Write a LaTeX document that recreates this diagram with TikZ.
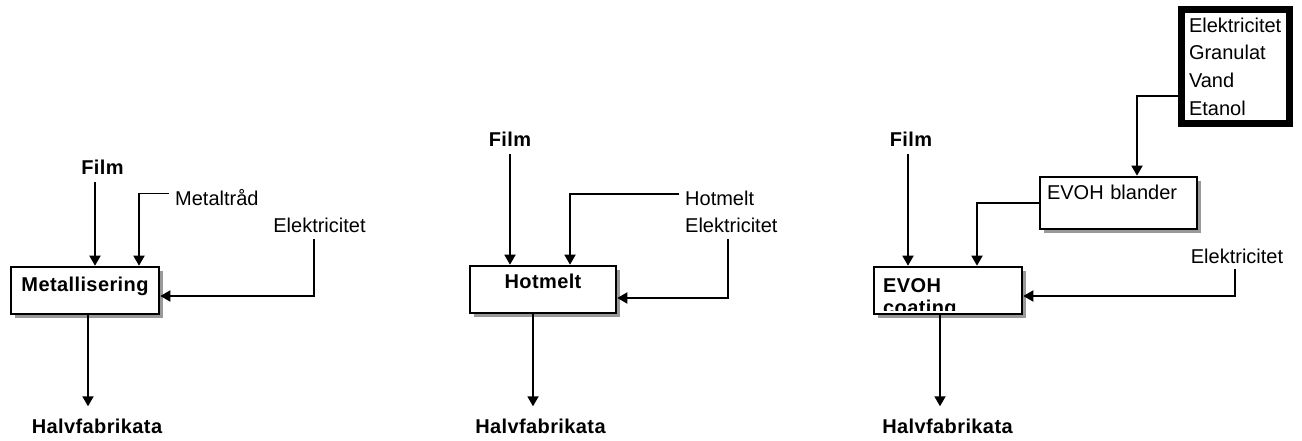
\documentclass[tikz,border=0pt]{standalone}
\usepackage{fontspec}
\setmainfont{Liberation Sans}
\newfontfamily\widesans{Liberation Sans}[LetterSpace=2]
\usetikzlibrary{arrows.meta,shadows}

\newcommand\txtplain{\fontsize{20}{27.7}\selectfont}
\newcommand\txtbold{\widesans\bfseries\fontsize{20}{22}\selectfont}

\begin{document}
\begin{tikzpicture}[
			x=1pt, y=-1pt,
			>={Triangle[length=10pt,width=11pt]},
			prose/.style  = {font=\txtplain, inner sep=6pt, anchor=base},
			strong/.style = {font=\txtbold, inner sep=7pt, anchor=base},
			product/.style = {strong, inner ysep=12pt},
			flow/.style   = {line width=1.8pt},
			stage/.style  = {draw, line width=2.6pt, fill=white, inner sep=0pt,
				drop shadow={shadow xshift=4pt, shadow yshift=-4pt, fill=black!40, opacity=1}}
			]
			\useasboundingbox (0,0) rectangle (1302,441);
			
			%--- Metallisering ---
			\node[strong] (film1) at (102.5,175) {Film};
			\node[prose, anchor=base west] (metal) at (169,205) {Metaltråd};
			\node[prose] (elec1) at (319.5,233) {Elektricitet};
			\node[stage, font=\txtbold, minimum width=148pt, text height=24pt, text depth=23pt] (met) at (85,290.5) {Metallisering};
			\node[product] (half1) at (97,433) {Halvfabrikata};
			
			\draw[flow,->] ([xshift=-7.5pt]film1.south) -- ([xshift=-7.5pt]film1.south |- met.north);
			\draw[flow,->] ([yshift=3.5pt]metal.west) -| ([xshift=54pt]met.north);
			\draw[flow,->] ([xshift=-5.5pt]elec1.south) |- ([yshift=-5.5pt]met.east);
			\draw[flow,->] ([xshift=3pt]met.south) -- ([xshift=3pt]met.south |- half1.north);
			
			%--- Hotmelt ---
			\node[strong] (film2) at (510,147) {Film};
			\node[prose, anchor=base west] (hotin) at (679,205) {Hotmelt};
			\node[prose, anchor=base west] (elec2) at (679,233) {Elektricitet};
			\node[stage, font=\txtbold, minimum width=146pt, text height=22pt, text depth=25pt] (hot) at (543,289.5) {Hotmelt};
			\node[product] (half2) at (540.5,433) {Halvfabrikata};
			
			\draw[flow,->] (film2.south) -- (film2.south |- hot.north);
			\draw[flow,->] ([yshift=3.5pt]hotin.west) -| ([xshift=27pt]hot.north);
			\draw[flow,->] ([xshift=-3.5pt]elec2.south) |- ([yshift=-8.5pt]hot.east);
			\draw[flow,->] ([xshift=-10pt]hot.south) -- ([xshift=-10pt]hot.south |- half2.north);
			
			%--- EVOH coating ---
			\node[draw, line width=7pt, font=\txtplain, align=left, text width=93pt, inner xsep=7.5pt, minimum height=114pt] (src) at (1235.5,66.5) {Elektricitet\\Granulat\\Vand\\Etanol};
			\node[stage, font=\txtplain, align=left, text width=143pt, inner xsep=7pt, text height=23pt, text depth=29pt] (blend) at (1118.5,203) {EVOH blander};
			\node[strong] (film3) at (911,147) {Film};
			\node[stage, minimum width=148pt, minimum height=47pt] (coat) at (948,290.5) {};
			\begin{scope}
				\clip (coat.north west) rectangle ([yshift=5.3pt]coat.south east);
				\node[font=\txtbold, align=left, inner sep=0pt, anchor=base west] (coattxt) at (883,314) {EVOH\\coating};
			\end{scope}
			\node[prose] (elec3) at (1237,263) {Elektricitet};
			\node[product] (half3) at (947.5,433) {Halvfabrikata};
			
			\draw[flow,->] ([yshift=-29.5pt]src.west) -| ([xshift=18.5pt]blend.north);
			\draw[flow,->] (blend.west) -| ([xshift=29pt]coat.north);
			\draw[flow,->] ([xshift=-3pt]film3.south) -- ([xshift=-3pt]film3.south |- coat.north);
			\draw[flow,->] ([xshift=-2pt]elec3.south) |- ([yshift=-5.5pt]coat.east);
			\draw[flow,->] ([xshift=-8pt]coat.south) -- ([xshift=-8pt]coat.south |- half3.north);
		\end{tikzpicture}
\end{document}
